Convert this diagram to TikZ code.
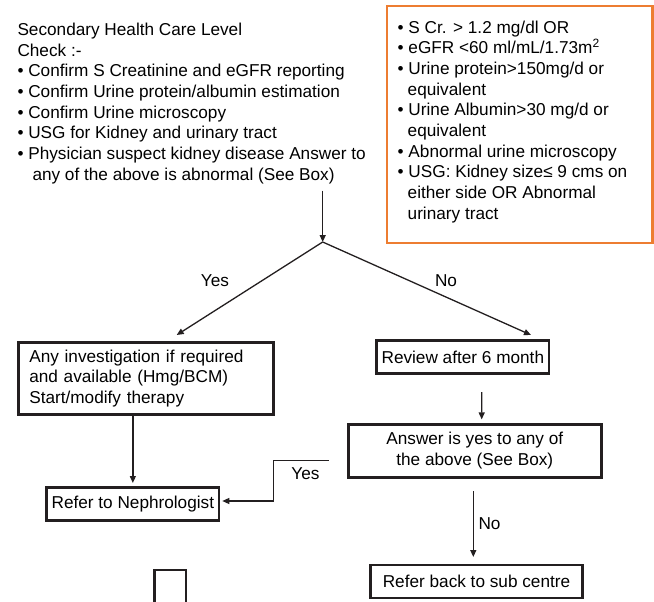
\documentclass[tikz,border=0pt]{standalone}
\usepackage{fontspec}
\setmainfont{Liberation Sans}
\usetikzlibrary{arrows.meta}
\definecolor{frameorange}{RGB}{237,125,49}
\definecolor{ink}{RGB}{35,31,32}
\begin{document}
\begin{tikzpicture}[x=1pt,y=-1pt,
  every node/.style={font=\fontsize{17.2}{20.7}\selectfont, text=black},
  txt/.style={inner sep=0pt, align=left},
  flowbox/.style={draw=ink, line width=2.6pt, inner sep=0pt, align=center},
  arr/.style={draw=ink, line width=1.3pt, -{Triangle[length=7pt,width=6pt]}},
  lbl/.style={inner sep=0pt},
  critframe/.style={draw=frameorange, line width=2.8pt}]
\useasboundingbox (0,0) rectangle (654,602);

% checklist at the top left
\node[txt, anchor=north west] (check) at (17.3,22.8)
  {Secondary Health Care Level\\
   Check :-\\
   • Confirm S Creatinine and eGFR reporting\\
   • Confirm Urine protein/albumin estimation\\
   • Confirm Urine microscopy\\
   • USG for Kidney and urinary tract\\
   • Physician suspect kidney disease Answer to\\
   \hspace*{15pt}any of the above is abnormal (See Box)};

% criteria box
\node[txt, anchor=north west] (crit) at (397.5,20.4)
  {• S Cr. > 1.2 mg/dl OR\\
   • eGFR <60 ml/mL/1.73m\textsuperscript{2}\\
   • Urine protein>150mg/d or\\
   \hspace*{10pt}equivalent\\
   • Urine Albumin>30 mg/d or\\
   \hspace*{10pt}equivalent\\
   • Abnormal urine microscopy\\
   • USG: Kidney size≤ 9 cms on\\
   \hspace*{10pt}either side OR Abnormal\\
   \hspace*{10pt}urinary tract};
\draw[critframe] (387,6) rectangle (652.5,243);

% flow boxes
\node[flowbox, minimum width=255, minimum height=72, text width=233, align=left] (inv) at (145.8,378.3)
  {Any investigation if required\\ and available (Hmg/BCM)\\ Start/modify therapy};
\node[flowbox, minimum width=172.3, minimum height=33.4] (neph) at (132.85,504) {Refer to Nephrologist};
\node[flowbox, minimum width=172.3, minimum height=32.6] (rev) at (462.85,357) {Review after 6 month};
\node[flowbox, minimum width=253, minimum height=53] (ans) at (474.8,450.8) {Answer is yes to any of\\ the above (See Box)};
\node[flowbox, minimum width=212, minimum height=33] (back) at (476.5,581.5) {Refer back to sub centre};
\node[flowbox, minimum width=31.5, minimum height=35] (blank) at (170.25,587.5) {};

% branching from the checklist
\coordinate (stem) at (322.7,190.7);
\coordinate (fork) at (322.7,242);
\coordinate (yesend) at (176.7,335);
\coordinate (noend) at (531,335);
\draw[arr] (stem) -- (fork);
\draw[arr] (fork) -- (yesend);
\draw[arr] (fork) -- (noend);
\node[lbl] (yestop) at (215,280.7) {Yes};
\node[lbl] (notop) at (446,280.7) {No};

% left branch
\draw[arr] (inv.south -| neph.north) -- ([yshift=3pt]neph.north);

% right branch
\draw[arr] ([xshift=18.85pt,yshift=-17.4pt]rev.south) -- ([xshift=6.9pt,yshift=3.6pt]ans.north);
\draw[arr] ([xshift=-1.5pt,yshift=-12.7pt]ans.south) -- ([xshift=-3.2pt,yshift=6.7pt]back.north);
\node[lbl, anchor=west] (nolow) at (478.3,523.3) {No};

% answer yes goes back to the nephrologist
\coordinate (yesstart) at ([xshift=-18.3pt,yshift=-9.9pt]ans.west);
\draw[arr] (yesstart) -- ++(-55,0) |- ([xshift=2pt,yshift=3pt]neph.east);
\node[lbl] (yeslow) at (305.5,473.3) {Yes};
\end{tikzpicture}
\end{document}
